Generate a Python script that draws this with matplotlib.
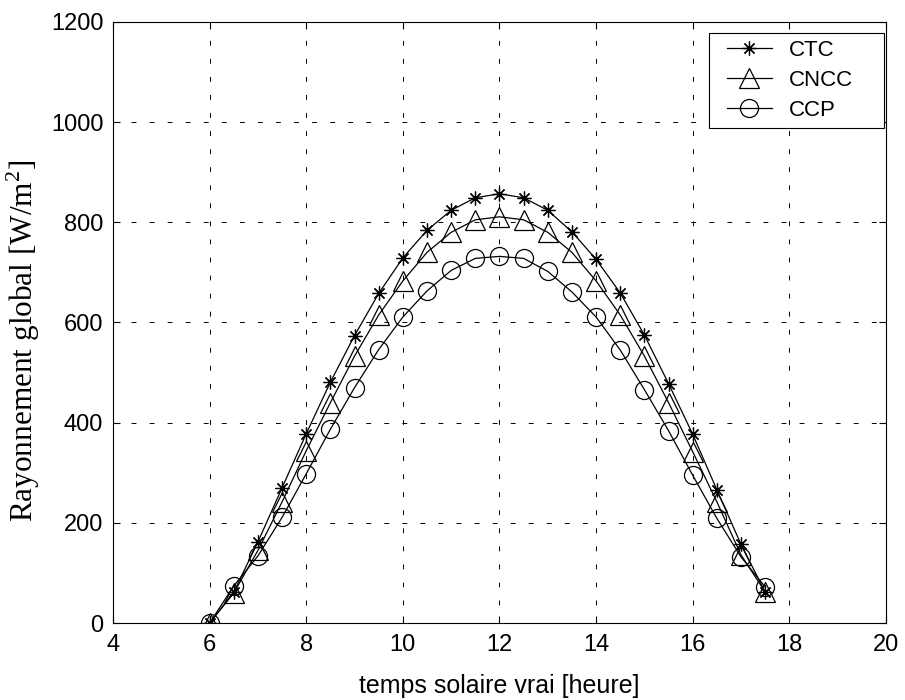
import matplotlib
matplotlib.use("Agg")
import matplotlib.pyplot as plt
from matplotlib.patches import Rectangle

# heures (temps solaire vrai)
hours = [6, 6.5, 7, 7.5, 8, 8.5, 9, 9.5, 10, 10.5, 11, 11.5,
         12, 12.5, 13, 13.5, 14, 14.5, 15, 15.5, 16, 16.5, 17, 17.5]

ctc = [0, 62, 162, 270, 378, 481, 574, 658, 729, 784, 824, 849,
       857, 849, 824, 781, 726, 659, 575, 478, 377, 266, 157, 62]
cncc = [0, 60, 145, 242, 344, 440, 533, 615, 683, 740, 780, 805,
        811, 805, 780, 740, 683, 615, 533, 440, 342, 242, 136, 62]
ccp = [0, 74, 134, 211, 298, 387, 470, 546, 611, 663, 704, 728,
       732, 728, 702, 661, 611, 545, 466, 384, 295, 209, 132, 72]

xticks = [4, 6, 8, 10, 12, 14, 16, 18, 20]
yticks = [0, 200, 400, 600, 800, 1000, 1200]

plt.rcParams['font.family'] = ['Liberation Sans', 'DejaVu Sans']
plt.rcParams['lines.scale_dashes'] = False
plt.rcParams['mathtext.fontset'] = 'custom'
plt.rcParams['mathtext.rm'] = 'Liberation Serif'

fig = plt.figure(figsize=(9.05, 7), dpi=100)
ax = fig.add_axes([0.1249, 0.11, 0.854, 0.8586])

lw = 0.9
ax.plot(hours, ctc, color='black', linewidth=lw, marker=(8, 2, 0),
        markersize=10, markeredgewidth=0.9, label='CTC')
ax.plot(hours, cncc, color='black', linewidth=lw, marker='^',
        markersize=14, markerfacecolor='none', markeredgewidth=0.9, label='CNCC')
ax.plot(hours, ccp, color='black', linewidth=lw, marker='o',
        markersize=13, markerfacecolor='none', markeredgewidth=0.9, label='CCP')

ax.set_xlim(4, 20)
ax.set_ylim(0, 1200)
ax.set_xticks(xticks)
ax.set_yticks(yticks)
ax.tick_params(direction='in', length=5, width=0.8, labelsize=17,
               top=True, right=True)
ax.tick_params(axis='x', pad=8)
ax.tick_params(axis='y', pad=7)
ax.grid(True, color='black', linestyle=(0, (3.5, 9.5)), linewidth=0.7)
for s in ax.spines.values():
    s.set_linewidth(0.8)

ax.set_xlabel('temps solaire vrai [heure]', fontsize=18)
ax.xaxis.set_label_coords(0.5, -0.085)
ax.set_ylabel('Rayonnement global [W/m$^\\mathrm{2}$]', fontsize=22.5,
              family='Liberation Serif')
ax.yaxis.set_label_coords(-0.092, 0.47)

# legend frame (MATLAB style box, wider than the entries)
ax.add_patch(Rectangle((0.771, 0.8236), 0.2264, 0.1581, transform=ax.transAxes,
                       facecolor='white', edgecolor='black', linewidth=0.8,
                       zorder=4.5, clip_on=False))
leg = ax.legend(loc='upper left', bbox_to_anchor=(0.7943, 0.9701),
                fontsize=16, frameon=False, borderaxespad=0, borderpad=0,
                handlelength=2.03, handletextpad=0.77, labelspacing=0.4)

fig.savefig('out.png', dpi=100)
